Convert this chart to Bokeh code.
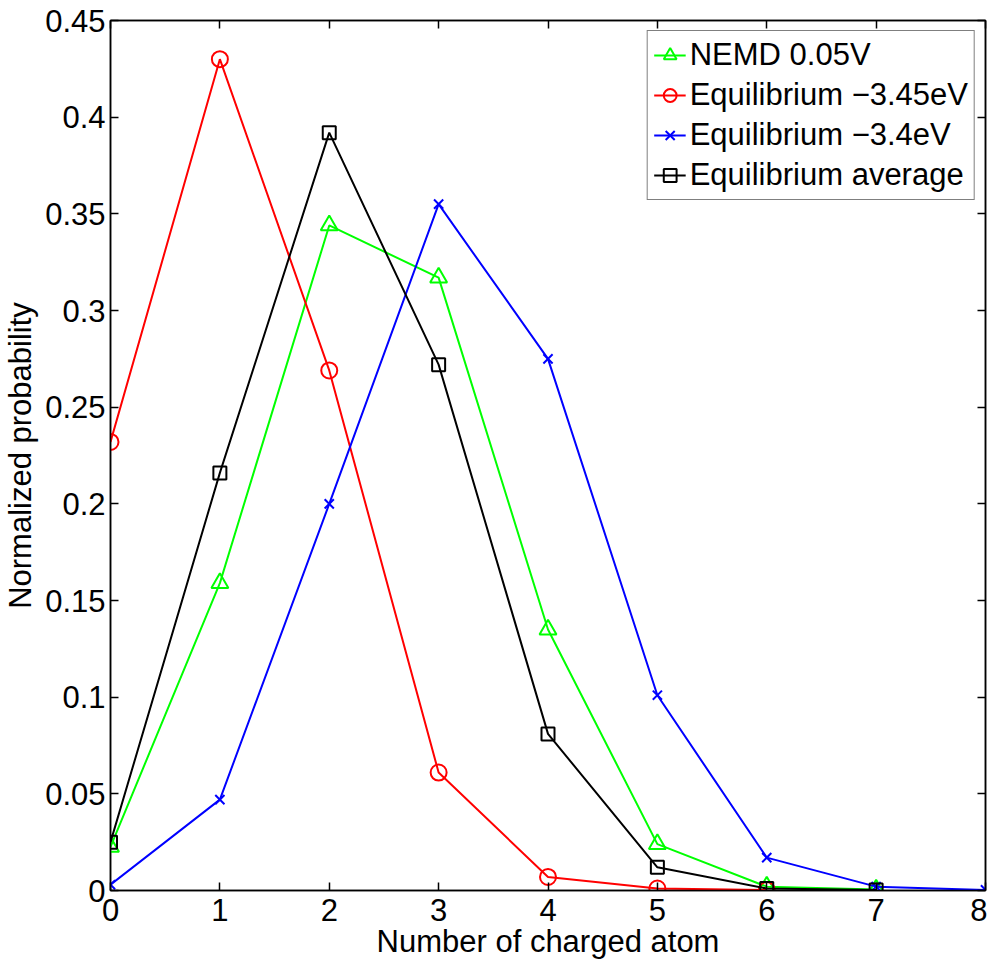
from bokeh.plotting import figure
from bokeh.models import LinearAxis, FixedTicker, Range1d, Legend
from bokeh.embed import file_html
from bokeh.resources import INLINE

x_nemd = [0, 1, 2, 3, 4, 5, 6, 7]
y_nemd = [0.0226, 0.159, 0.344, 0.317, 0.135, 0.024, 0.002, 0.0005]

x_eq345 = [0, 1, 2, 3, 4, 5, 6]
y_eq345 = [0.232, 0.430, 0.269, 0.061, 0.007, 0.001, 0.0003]

x_eq34 = [0, 1, 2, 3, 4, 5, 6, 7, 8]
y_eq34 = [0.003, 0.047, 0.200, 0.355, 0.275, 0.101, 0.017, 0.002, 0.0003]

x_avg = [0, 1, 2, 3, 4, 5, 6, 7]
y_avg = [0.025, 0.216, 0.392, 0.272, 0.081, 0.012, 0.001, 0.0003]

x_ticks = [0, 1, 2, 3, 4, 5, 6, 7, 8]
y_ticks = [0, 0.05, 0.1, 0.15, 0.2, 0.25, 0.3, 0.35, 0.4, 0.45]
y_tick_labels = ["0", "0.05", "0.1", "0.15", "0.2", "0.25", "0.3", "0.35", "0.4", "0.45"]

FONT = "Liberation Sans"
FS = "31px"

p = figure(frame_width=875, frame_height=870, output_backend="svg", toolbar_location=None,
           x_range=Range1d(0, 8), y_range=Range1d(0, 0.45),
           min_border_left=105, min_border_right=2, min_border_top=20, min_border_bottom=10)
p.outline_line_color = "black"
p.outline_line_width = 1.5
p.grid.visible = False
p.background_fill_color = "white"

def style_axis(ax, ticks, labels=True):
    ax.ticker = FixedTicker(ticks=ticks)
    ax.major_tick_in = 8
    ax.major_tick_out = 0
    ax.minor_tick_line_color = None
    ax.axis_line_color = "black"
    ax.axis_line_width = 1.5
    ax.major_tick_line_width = 1.5
    ax.major_label_text_font = FONT
    if labels:
        ax.major_label_text_font_size = FS
        ax.major_label_text_color = "black"
    else:
        ax.major_label_text_font_size = "1px"
        ax.major_label_text_color = None
        ax.major_label_standoff = 0
    ax.axis_label_text_font = FONT
    ax.axis_label_text_font_size = FS
    ax.axis_label_text_font_style = "normal"
    ax.axis_label_text_color = "black"

xa = p.xaxis[0]
style_axis(xa, x_ticks)
xa.axis_label = "Number of charged atom"
xa.major_label_standoff = 8
xa.axis_label_standoff = 0

ya = p.yaxis[0]
style_axis(ya, y_ticks)
ya.major_label_overrides = {t: l for t, l in zip(y_ticks, y_tick_labels)}
ya.axis_label = "Normalized probability"
ya.major_label_standoff = 5
ya.axis_label_standoff = 4

top = LinearAxis()
style_axis(top, x_ticks, labels=False)
p.add_layout(top, "above")

right = LinearAxis()
style_axis(right, y_ticks, labels=False)
p.add_layout(right, "right")

lw = 2
series = [
    (x_nemd, y_nemd, "#00ff00", "triangle", 17, "NEMD 0.05V"),
    (x_eq345, y_eq345, "#ff0000", "circle", 16, "Equilibrium \u22123.45eV"),
    (x_eq34, y_eq34, "#0000ff", "x", 13, "Equilibrium \u22123.4eV"),
    (x_avg, y_avg, "#000000", "square", 13, "Equilibrium average"),
]
items = []
for xs, ys, c, m, s, lab in series:
    r1 = p.line(xs, ys, line_color=c, line_width=lw)
    r2 = p.scatter(xs, ys, marker=m, size=s, line_color=c, fill_color=None, line_width=lw)
    items.append((lab, [r1, r2]))

leg = Legend(items=items, location="top_right")
leg.label_text_font = FONT
leg.label_text_font_size = FS
leg.label_text_color = "black"
leg.border_line_color = "black"
leg.border_line_width = 1.5
leg.background_fill_alpha = 1
leg.margin = 10
leg.padding = 6
leg.spacing = 4
leg.glyph_height = 36
leg.label_height = 36
leg.glyph_width = 32
leg.label_standoff = 4
p.add_layout(leg)

open("out.html", "w").write(file_html(p, INLINE))
